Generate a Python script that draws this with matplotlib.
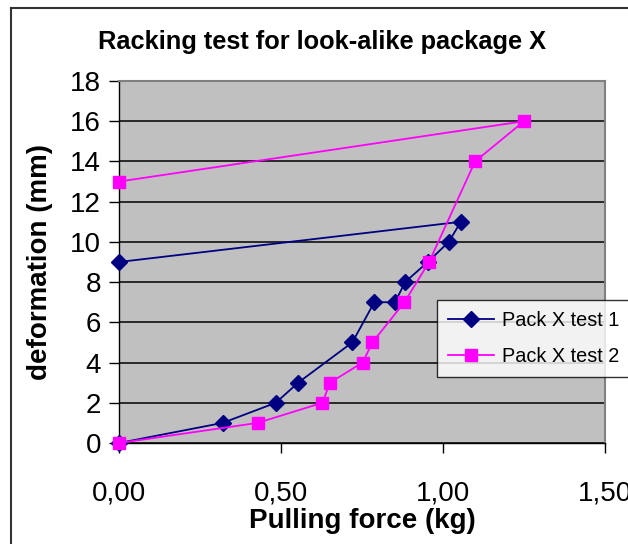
import matplotlib
matplotlib.use("Agg")
import matplotlib.pyplot as plt
from matplotlib.lines import Line2D
from matplotlib.ticker import FuncFormatter

plt.rcParams['font.family'] = ['Liberation Sans', 'DejaVu Sans']

# data
force_1 = [0.0, 0.32, 0.484, 0.553, 0.72, 0.788, 0.852, 0.883, 0.953, 1.018, 1.055, 0.0]
deform_1 = [0, 1, 2, 3, 5, 7, 7, 8, 9, 10, 11, 9]
force_2 = [0.0, 0.428, 0.628, 0.651, 0.752, 0.782, 0.881, 0.957, 1.099, 1.25, 0.0]
deform_2 = [0, 1, 2, 3, 4, 5, 7, 9, 14, 16, 13]
labels = ['Pack X test 1', 'Pack X test 2']

fig = plt.figure(figsize=(6.28, 5.44), dpi=100)
ax = fig.add_axes([119/628, 1-443/544, (605-119)/628, (443-81)/544])
ax.set_facecolor('#C0C0C0')

ax.plot(force_1, deform_1, color='#000080', lw=1.3, marker='D', ms=8,
        mfc='#000080', mec='#000080', label=labels[0], clip_on=False, zorder=3)
ax.plot(force_2, deform_2, color='#FF00FF', lw=1.3, marker='s', ms=8,
        mfc='#FF00FF', mec='#FF00FF', label=labels[1], clip_on=False, zorder=4)

ax.set_xlim(0, 1.5)
ax.set_ylim(0, 18)
ax.set_xticks([0, 0.5, 1.0, 1.5])
ax.set_yticks(range(0, 19, 2))
ax.xaxis.set_major_formatter(FuncFormatter(lambda v, p: f'{v:.2f}'.replace('.', ',')))
ax.yaxis.grid(True, color='black', lw=1.1)
ax.set_axisbelow(True)
ax.tick_params(axis='both', direction='out', length=7, width=1, labelsize=20, pad=6)
ax.tick_params(axis='x', pad=20)

for s in ['top', 'right']:
    ax.spines[s].set_color('#808080')
    ax.spines[s].set_linewidth(1.5)
for s in ['left', 'bottom']:
    ax.spines[s].set_color('black')
    ax.spines[s].set_linewidth(1)

ax.set_xlabel('Pulling force (kg)', fontsize=20, fontweight='bold', labelpad=1)
ax.set_ylabel('deformation (mm)', fontsize=20, fontweight='bold', labelpad=12)
fig.text(322/628, 1-42/544, 'Racking test for look-alike package X',
         fontsize=18.3, fontweight='bold', ha='center', va='center')

leg = fig.legend(loc='upper left', bbox_to_anchor=(437/628, 1-300/544),
                 fontsize=14.3, frameon=True, fancybox=False, borderaxespad=0,
                 handlelength=2.3, borderpad=0.55, labelspacing=0.85, handletextpad=0.4)
leg.get_frame().set_edgecolor('black')
leg.get_frame().set_linewidth(1)

# outer chart border
fig.add_artist(Line2D([11/628, 11/628], [0, 1-8/544], transform=fig.transFigure, color='#333333', lw=1.5))
fig.add_artist(Line2D([11/628, 1], [1-8/544, 1-8/544], transform=fig.transFigure, color='#333333', lw=1.5))

fig.savefig('out.png', dpi=100)
